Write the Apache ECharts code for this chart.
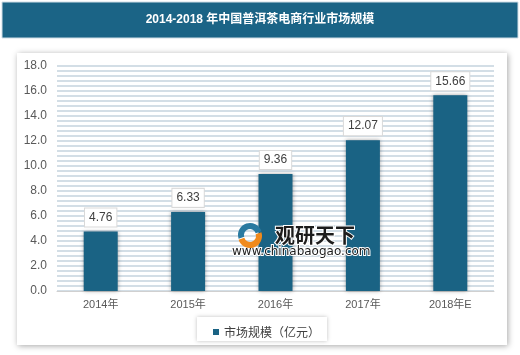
<!DOCTYPE html>
<html><head><meta charset="utf-8">
<script src="https://cdn.jsdelivr.net/npm/echarts@6/dist/echarts.min.js"></script>
<style>html,body{margin:0;padding:0;background:#fff;}#c{width:520px;height:355px;}</style>
</head><body><div id="c"></div>
<script>
const titleText = '2014-2018 年中国普洱茶电商行业市场规模';
const categories = ['2014年', '2015年', '2016年', '2017年', '2018年E'];
const seriesName = '市场规模（亿元）';
const values = [4.76, 6.33, 9.36, 12.07, 15.66];
const yTicks = { min: 0, max: 18, interval: 2 };

const chart = echarts.init(document.getElementById('c'), null, {renderer: 'canvas'});
const font = '"Liberation Sans", "Noto Sans CJK SC", sans-serif';
chart.setOption({
  animation: false,
  backgroundColor: '#ffffff',
  textStyle: { fontFamily: font },
  graphic: [
    { type: 'rect', shape: { x: 2, y: 2, width: 516, height: 36 }, style: { fill: '#1b6486', stroke: '#cfdde6', lineWidth: 1 }, z: 0 },
    { type: 'text', x: 260, y: 20, style: { text: titleText, fill: '#ffffff', font: 'bold 12px ' + font, textAlign: 'center', textVerticalAlign: 'middle' }, z: 1 },
    { type: 'rect', shape: { x: 17, y: 53, width: 490, height: 292 }, style: { fill: '#ffffff', shadowBlur: 6, shadowColor: 'rgba(0,0,0,0.35)', shadowOffsetX: 1, shadowOffsetY: 1 }, z: -10 },
    { type: 'rect', shape: { x: 197, y: 317, width: 130, height: 24 }, style: { fill: '#ffffff', shadowBlur: 4, shadowColor: 'rgba(0,0,0,0.25)' }, z: -5 },
    { type: 'text', x: 275, y: 235, style: { text: '观研天下', fill: '#1c1c1c', font: 'bold 20px "Noto Sans CJK SC", sans-serif', textVerticalAlign: 'middle', stroke: '#ffffff', lineWidth: 2 }, z: 20 },
    { type: 'text', x: 232, y: 252, style: { text: 'www.chinabaogao.com', fill: '#1c1c1c', font: '12px "DejaVu Sans", sans-serif', textVerticalAlign: 'middle', stroke: '#ffffff', lineWidth: 2 }, z: 20 },
    { type: 'sector', shape: { cx: 250, cy: 235, r: 12, r0: 6, startAngle: Math.PI * 0.9, endAngle: Math.PI * 1.9 }, style: { fill: '#2a7aa0' }, z: 20 },
    { type: 'sector', shape: { cx: 250, cy: 236, r: 12, r0: 6, startAngle: Math.PI * -0.1, endAngle: Math.PI * 0.9 }, style: { fill: '#f08a1c' }, z: 20 }
  ],
  grid: { left: 57, right: 26, top: 66, bottom: 64, containLabel: false },
  legend: {
    data: [seriesName], left: 208, top: 321, icon: 'rect', itemWidth: 6, itemHeight: 6, itemGap: 4,
    textStyle: { color: '#404040', fontSize: 12, fontFamily: '"Noto Sans CJK SC", sans-serif' }
  },
  xAxis: {
    type: 'category', data: categories,
    axisLine: { show: true, lineStyle: { color: '#d0d0d0' } },
    axisTick: { show: false },
    axisLabel: { color: '#595959', fontSize: 11, margin: 8, fontFamily: font }
  },
  yAxis: {
    type: 'value', min: yTicks.min, max: yTicks.max, interval: yTicks.interval,
    axisLine: { show: false }, axisTick: { show: false },
    axisLabel: { color: '#595959', fontSize: 12, margin: 10, formatter: v => v.toFixed(1) },
    splitLine: { show: true, lineStyle: { color: '#d3dee6', width: 2 } },
    minorTick: { show: false, splitNumber: 5 },
    minorSplitLine: { show: true, lineStyle: { color: '#d3dee6', width: 2 } }
  },
  series: [{
    name: seriesName, type: 'bar', data: values, barWidth: 34,
    itemStyle: { color: '#1a6384', shadowColor: 'rgba(0,0,0,0.35)', shadowBlur: 4, shadowOffsetX: 0, shadowOffsetY: 0 },
    label: {
      show: true, position: 'top', distance: 5, color: '#404040', fontSize: 12,
      backgroundColor: '#ffffff', borderColor: '#d9d9d9', borderWidth: 1, padding: [3, 4, 3, 4],
      formatter: p => p.value.toFixed(2)
    }
  }]
});
</script></body></html>
